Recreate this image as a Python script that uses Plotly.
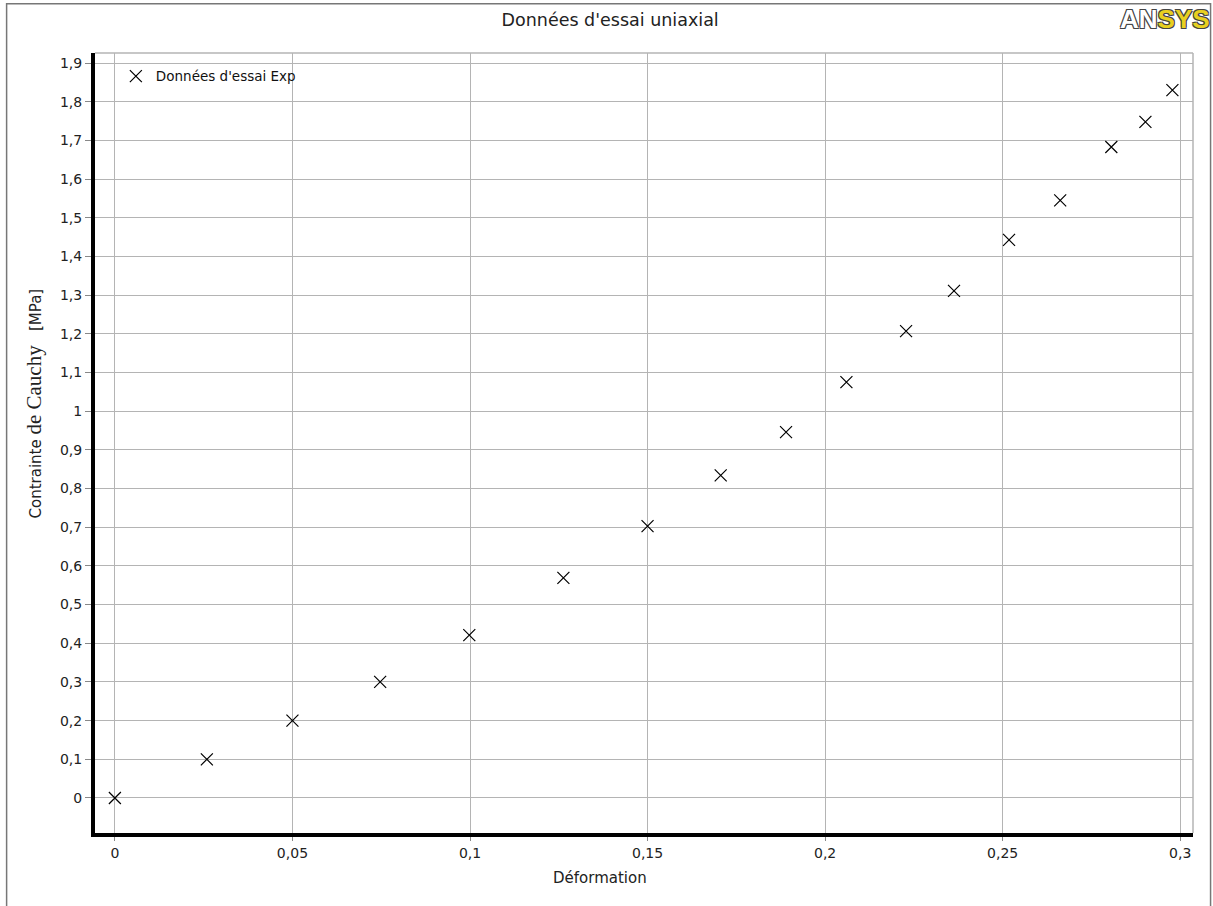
import plotly.graph_objects as go

# Uniaxial test data: strain (-) vs Cauchy stress (MPa)
strain = [0.0, 0.0259, 0.0500, 0.0747, 0.0998, 0.1263, 0.1500, 0.1706, 0.1890,
          0.2060, 0.2228, 0.2363, 0.2518, 0.2662, 0.2806, 0.2902, 0.2978]
stress = [0.0, 0.100, 0.200, 0.300, 0.421, 0.569, 0.703, 0.834, 0.946,
          1.075, 1.207, 1.311, 1.443, 1.545, 1.683, 1.748, 1.830]

x_ticks = [0, 0.05, 0.1, 0.15, 0.2, 0.25, 0.3]
y_ticks = [round(0.1 * i, 1) for i in range(20)]

FONT = "DejaVu Sans"
GRID = "#b4b4b4"
TXT = "#222"

fig = go.Figure()
fig.add_trace(go.Scatter(
    x=strain, y=stress, mode="markers", name="Données d'essai Exp",
    marker=dict(symbol="x-thin-open", size=12, color="black",
                line=dict(color="black", width=1.2)),
))

fig.update_layout(
    width=1213, height=906,
    margin=dict(l=95, r=20, t=53, b=73),
    paper_bgcolor="white", plot_bgcolor="white",
    separators=", ",
    font=dict(family=FONT, size=14, color=TXT),
    title=dict(text="Données d'essai uniaxial", x=0.503, xanchor="center",
               y=0.978, yanchor="middle", font=dict(family=FONT, size=17.5, color=TXT)),
    showlegend=True,
    legend=dict(x=0.019, y=0.99, xanchor="left", yanchor="top",
                bgcolor="rgba(0,0,0,0)", font=dict(family=FONT, size=13.5, color="#111"),
                itemwidth=30),
    xaxis=dict(
        range=[-0.0056, 0.3036], tickvals=x_ticks,
        showgrid=True, gridcolor=GRID, gridwidth=1,
        showline=True, linecolor="black", linewidth=4,
        ticks="outside", ticklen=4, tickcolor="#888", tickwidth=1,
        tickfont=dict(family=FONT, size=14, color=TXT),
        zeroline=False,
    ),
    yaxis=dict(
        range=[-0.0905, 1.926], tickvals=y_ticks,
        showgrid=True, gridcolor=GRID, gridwidth=1,
        showline=True, linecolor="black", linewidth=4,
        ticks="outside", ticklen=6, tickcolor="#888", tickwidth=1,
        tickfont=dict(family=FONT, size=14, color=TXT),
        zeroline=False,
    ),
)

# Axis titles
fig.add_annotation(
    xref="paper", yref="paper", x=0.4597, y=-0.058, xanchor="center", yanchor="middle",
    text="Déformation", showarrow=False, font=dict(family=FONT, size=15, color=TXT),
)
fig.add_annotation(
    xref="paper", yref="paper", x=-0.056, y=0.55, xanchor="center", yanchor="middle",
    textangle=-90, showarrow=False,
    text=("Contrainte <span style='font-family:Liberation Serif;font-size:21px'>de Cauchy</span>"
          "   [MPa]"),
    font=dict(family=FONT, size=15, color=TXT),
)

# Gray plot-area border on the top and right sides
fig.add_shape(type="line", xref="paper", yref="paper", x0=0, x1=1, y0=1, y1=1,
              line=dict(color=GRID, width=1.5))
fig.add_shape(type="line", xref="paper", yref="paper", x0=1, x1=1, y0=0, y1=1,
              line=dict(color=GRID, width=1.5))

# Outer window frame
fig.add_shape(type="rect", xref="paper", yref="paper",
              x0=-0.0805, x1=1.016, y0=-0.12, y1=1.063,
              line=dict(color="#777", width=1.5), fillcolor="rgba(0,0,0,0)", layer="below")

# Logo in the top-right corner
outline = "-1px -1px 0 #444, 1px -1px 0 #444, -1px 1px 0 #444, 1px 1px 0 #444"
fig.add_annotation(
    xref="paper", yref="paper", x=1.0175, y=1.066, xanchor="right", yanchor="top",
    text="<b><span style='color:white'>AN</span><span style='color:#e8d020'>SYS</span></b>",
    showarrow=False,
    font=dict(family="Liberation Sans", size=26, shadow=outline),
)

fig.write_html("out.html")
